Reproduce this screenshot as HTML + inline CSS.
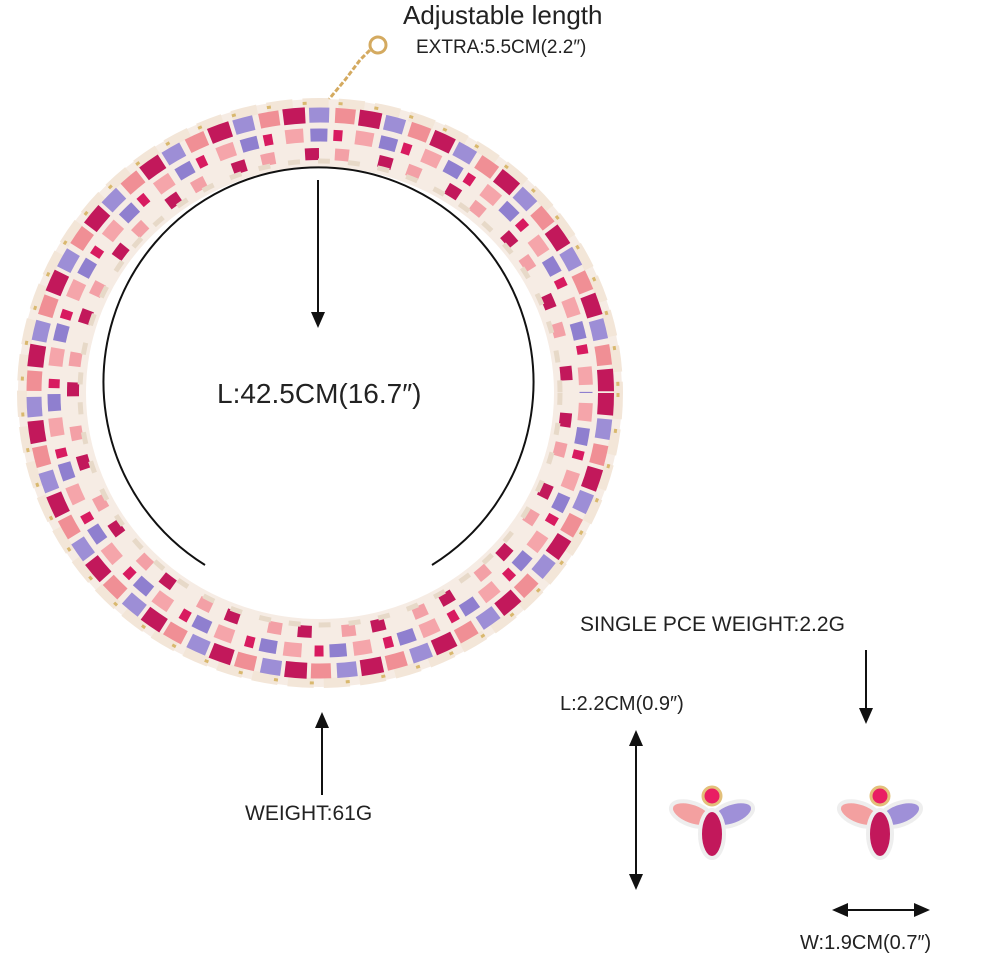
<!DOCTYPE html>
<html><head><meta charset="utf-8"><style>
html,body{margin:0;padding:0;background:#fff;}
body{width:1000px;height:960px;overflow:hidden;position:relative;font-family:"Liberation Sans",sans-serif;color:#222;}
.t{position:absolute;white-space:nowrap;}
</style></head><body>
<svg width="1000" height="960" style="position:absolute;left:0;top:0">
<defs>
<marker id="ah" markerWidth="16" markerHeight="16" refX="8" refY="7" orient="auto" markerUnits="userSpaceOnUse"><path d="M0,0 L16,7 L0,14 Z" fill="#111"/></marker>
</defs>
<!-- chain / clasp -->
<path d="M300,125 L320,110 L345,80 L360,60 L372,48" stroke="#d4aa60" stroke-width="3" fill="none" stroke-dasharray="5 2"/>
<circle cx="378" cy="45" r="8" fill="none" stroke="#d4aa60" stroke-width="3"/>
<ellipse cx="292" cy="122" rx="10" ry="6" fill="#e3c07a"/>
<!-- necklace ring -->
<g fill="none" transform="translate(320,393)">
<ellipse rx="268" ry="260" stroke="#f6ece4" stroke-width="68"/>
<ellipse rx="298" ry="290" stroke="#f3e6d8" stroke-width="10" stroke-dasharray="26 10"/>
<ellipse rx="298" ry="290" stroke="#d9b86e" stroke-width="3" stroke-dasharray="4 32"/>
<ellipse rx="286" ry="278" stroke="#c2185b" stroke-width="16" stroke-dasharray="22 54"/>
<ellipse rx="286" ry="278" stroke="#9d8ed6" stroke-width="15" stroke-dasharray="20 56" stroke-dashoffset="-26"/>
<ellipse rx="286" ry="278" stroke="#f08f95" stroke-width="15" stroke-dasharray="20 56" stroke-dashoffset="-52"/>
<ellipse rx="266" ry="258" stroke="#f5a5aa" stroke-width="14" stroke-dasharray="18 52" stroke-dashoffset="-10"/>
<ellipse rx="266" ry="258" stroke="#8f7fcf" stroke-width="13" stroke-dasharray="17 53" stroke-dashoffset="-35"/>
<ellipse rx="266" ry="258" stroke="#d81b60" stroke-width="11" stroke-dasharray="9 61" stroke-dashoffset="-58"/>
<ellipse rx="247" ry="239" stroke="#c2185b" stroke-width="12" stroke-dasharray="14 60" stroke-dashoffset="-20"/>
<ellipse rx="247" ry="239" stroke="#f3a0a6" stroke-width="12" stroke-dasharray="14 60" stroke-dashoffset="-50"/>
<ellipse rx="240" ry="232" stroke="#e7d9c8" stroke-width="5" stroke-dasharray="12 18"/>
</g>
<!-- inner arc -->
<path d="M205,565 A215,215 0 1 1 432,565" fill="none" stroke="#111" stroke-width="2"/>
<line x1="318" y1="180" x2="318" y2="320" stroke="#111" stroke-width="2" marker-end="url(#ah)"/>
<!-- weight arrow -->
<line x1="322" y1="795" x2="322" y2="720" stroke="#111" stroke-width="2" marker-end="url(#ah)"/>
<!-- earring dims -->
<line x1="636" y1="780" x2="636" y2="738" stroke="#111" stroke-width="2" marker-end="url(#ah)"/>
<line x1="636" y1="780" x2="636" y2="882" stroke="#111" stroke-width="2" marker-end="url(#ah)"/>
<line x1="866" y1="650" x2="866" y2="716" stroke="#111" stroke-width="2" marker-end="url(#ah)"/>
<line x1="880" y1="910" x2="840" y2="910" stroke="#111" stroke-width="2" marker-end="url(#ah)"/>
<line x1="880" y1="910" x2="922" y2="910" stroke="#111" stroke-width="2" marker-end="url(#ah)"/>
<!-- earrings -->
<g transform="translate(712,820)">
<ellipse cx="-20" cy="-6" rx="22" ry="11" transform="rotate(20 -20 -6)" fill="#f3a0a0" stroke="#eee" stroke-width="4"/>
<ellipse cx="20" cy="-6" rx="22" ry="11" transform="rotate(-20 20 -6)" fill="#9f90d8" stroke="#eee" stroke-width="4"/>
<ellipse cx="0" cy="14" rx="12" ry="24" fill="#c2185b" stroke="#eee" stroke-width="4"/>
<circle cx="0" cy="-24" r="9" fill="#e91e63" stroke="#e3c07a" stroke-width="3"/>
</g>
<g transform="translate(880,820)">
<ellipse cx="-20" cy="-6" rx="22" ry="11" transform="rotate(20 -20 -6)" fill="#f3a0a0" stroke="#eee" stroke-width="4"/>
<ellipse cx="20" cy="-6" rx="22" ry="11" transform="rotate(-20 20 -6)" fill="#9f90d8" stroke="#eee" stroke-width="4"/>
<ellipse cx="0" cy="14" rx="12" ry="24" fill="#c2185b" stroke="#eee" stroke-width="4"/>
<circle cx="0" cy="-24" r="9" fill="#e91e63" stroke="#e3c07a" stroke-width="3"/>
</g>
</svg>
<div class="t" style="left:403px;top:0px;font-size:26px">Adjustable length</div>
<div class="t" style="left:416px;top:37px;font-size:19px">EXTRA:5.5CM(2.2″)</div>
<div class="t" style="left:217px;top:378px;font-size:28px">L:42.5CM(16.7″)</div>
<div class="t" style="left:245px;top:802px;font-size:21px">WEIGHT:61G</div>
<div class="t" style="left:580px;top:613px;font-size:21px">SINGLE PCE WEIGHT:2.2G</div>
<div class="t" style="left:560px;top:693px;font-size:20px">L:2.2CM(0.9″)</div>
<div class="t" style="left:800px;top:932px;font-size:20px">W:1.9CM(0.7″)</div>
</body></html>
